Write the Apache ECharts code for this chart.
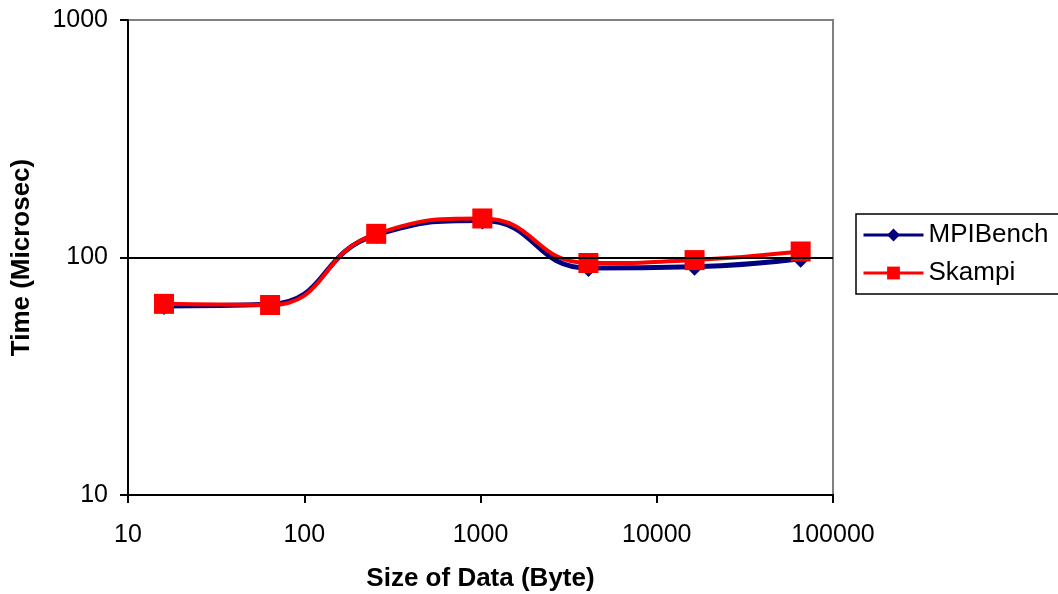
<!DOCTYPE html>
<html><head><meta charset="utf-8">
<script src="https://cdn.jsdelivr.net/npm/echarts@6/dist/echarts.min.js"></script>
<style>html,body{margin:0;padding:0;background:#fff}#c{width:1058px;height:594px}</style>
</head><body><div id="c"></div>
<script>
const sizes = [16, 64, 256, 1024, 4096, 16384, 65536];
const mpibench = [62.5, 63.5, 124.5, 143, 90.3, 91.5, 98.8];
const skampi = [63.8, 63.1, 125.8, 146, 94.8, 97.5, 106];
const xTicks = [10, 100, 1000, 10000, 100000];
const yTicks = [10, 100, 1000];

const font = 'Liberation Sans, Arial, sans-serif';
const chart = echarts.init(document.getElementById('c'), null, {renderer: 'canvas'});
chart.setOption({
  animation: false,
  backgroundColor: '#fff',
  textStyle: {fontFamily: font},
  grid: {left: 128, right: 225, top: 20, bottom: 99, show: true, borderColor: '#808080', borderWidth: 2, backgroundColor: 'transparent', containLabel: false, outerBoundsMode: 'none'},
  legend: {
    left: 856, top: 214, orient: 'vertical',
    data: [
      {name: 'MPIBench', itemStyle: {color: '#000080'}, lineStyle: {color: '#000080', width: 3}},
      {name: 'Skampi', itemStyle: {color: '#ff0000'}, lineStyle: {color: '#ff0000', width: 3}}
    ],
    itemWidth: 60, itemHeight: 16, itemGap: 12,
    borderColor: '#000', borderWidth: 1.5,
    padding: [8, 40, 8, 6],
    textStyle: {fontSize: 26, color: '#000', fontFamily: font}
  },
  xAxis: {
    type: 'log', logBase: 10, min: xTicks[0], max: xTicks[xTicks.length - 1],
    name: 'Size of Data (Byte)', nameLocation: 'middle', nameGap: 71,
    nameTextStyle: {fontSize: 26, fontWeight: 'bold', color: '#000'},
    axisLine: {show: true, onZero: false, lineStyle: {color: '#000', width: 2}},
    axisTick: {show: true, length: 8, lineStyle: {color: '#000', width: 2}},
    minorTick: {show: false},
    axisLabel: {fontSize: 25, color: '#000', margin: 28, formatter: v => String(Math.round(v))},
    splitLine: {show: false}
  },
  yAxis: {
    type: 'log', logBase: 10, min: yTicks[0], max: yTicks[yTicks.length - 1],
    name: 'Time (Microsec)', nameLocation: 'middle', nameGap: 93,
    nameTextStyle: {fontSize: 26, fontWeight: 'bold', color: '#000'},
    axisLine: {show: true, onZero: false, lineStyle: {color: '#000', width: 2}},
    axisTick: {show: true, length: 8, lineStyle: {color: '#000', width: 2}},
    axisLabel: {fontSize: 25, color: '#000', margin: 20, formatter: v => String(Math.round(v))},
    splitLine: {show: false}
  },
  series: [
    {
      name: 'MPIBench', type: 'line', smooth: 0.5,
      data: sizes.map((s, i) => [s, mpibench[i]]),
      symbol: 'diamond', symbolSize: 18,
      itemStyle: {color: '#000080'},
      lineStyle: {color: '#000080', width: 5},
      markLine: {
        silent: true, symbol: 'none', label: {show: false},
        lineStyle: {color: '#000', width: 2, type: 'solid'},
        data: [{yAxis: 100}]
      },
      z: 3
    },
    {
      name: 'Skampi', type: 'line', smooth: 0.5,
      data: sizes.map((s, i) => [s, skampi[i]]),
      symbol: 'rect', symbolSize: 20,
      itemStyle: {color: '#ff0000'},
      lineStyle: {color: '#ff0000', width: 4},
      z: 4
    }
  ]
});
</script></body></html>
